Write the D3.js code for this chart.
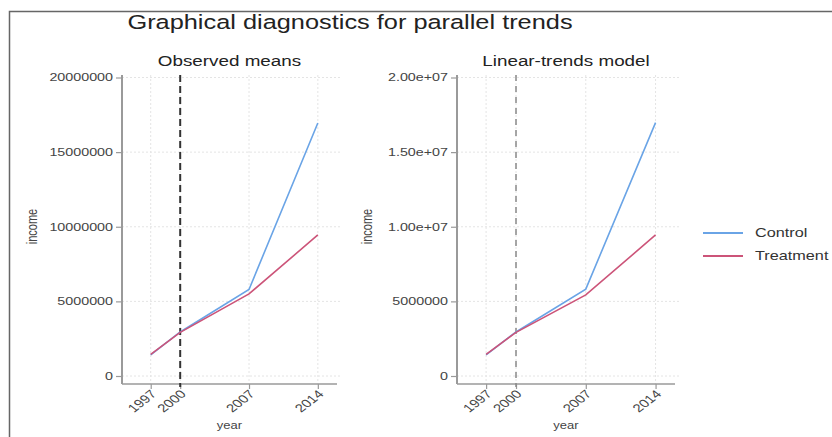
<!DOCTYPE html>
<html>
<head>
<meta charset="utf-8">
<script src="https://cdn.jsdelivr.net/npm/d3@7"></script>
<style>
  body { margin: 0; background: #fff; }
  svg { display: block; font-family: "Liberation Sans", Arial, sans-serif; }
</style>
</head>
<body>
<div id="chart"></div>
<script>
// values
var years = [1997, 2000, 2007, 2014];
var yTicks = [0, 5000000, 10000000, 15000000, 20000000];
var obsControl = [1420000, 2950000, 5800000, 16950000];
var obsTreatment = [1450000, 2920000, 5500000, 9450000];
var ltControl = [1420000, 2950000, 5820000, 16980000];
var ltTreatment = [1450000, 2920000, 5430000, 9450000];
var seriesNames = ["Control", "Treatment"];
var seriesColors = ["#6aa4e6", "#cc5479"];
var treatYear = 2000;

var W = 832, H = 437;
var sx = 1.3; // the source image is stretched sideways, so is its text

var svg = d3.select("#chart").append("svg")
    .attr("width", W)
    .attr("height", H);

// frame of the screenshot
svg.append("path")
    .attr("d", "M9.5,437 V11.5 H832")
    .attr("fill", "none")
    .attr("stroke", "#666")
    .attr("stroke-width", 1.5);

// stretched text helper
function label(g, x, y, txt, size, anchor, rot, fill) {
  return g.append("text")
      .attr("transform", "translate(" + x + "," + y + ") scale(" + sx + ",1)" + (rot ? " rotate(" + rot + ")" : ""))
      .attr("text-anchor", anchor || "middle")
      .attr("font-size", size)
      .attr("fill", fill || "#333")
      .text(txt);
}

label(svg, 350, 29, "Graphical diagnostics for parallel trends", 19.5, "middle", 0, "#222");

var plotTop = 75, plotBottom = 384;
var y = d3.scaleLinear().domain([0, 20000000]).range([376, 77.5]);

function sciFmt(v) {
  if (v >= 10000000) return v.toExponential(2).replace("e+7", "e+07");
  return d3.format("d")(v);
}

var panels = [
  { title: "Observed means", left: 122, right: 337, control: obsControl, treat: obsTreatment,
    fmt: d3.format("d"), vcol: "#333", vw: 2, vdash: "7,4" },
  { title: "Linear-trends model", left: 457, right: 675, control: ltControl, treat: ltTreatment,
    fmt: sciFmt, vcol: "#8a8a8a", vw: 1.5, vdash: "6,5" }
];

panels.forEach(function(p) {
  var g = svg.append("g");
  var x = d3.scaleLinear().domain([1994.08, 2015.95]).range([p.left, p.right]);
  var cx = (p.left + p.right) / 2;

  // grid
  g.selectAll("line.hgrid").data(yTicks).enter().append("line")
      .attr("class", "hgrid")
      .attr("x1", p.left).attr("x2", p.right + 5)
      .attr("y1", function(d) { return y(d); })
      .attr("y2", function(d) { return y(d); })
      .attr("stroke", "#e4e4e4")
      .attr("stroke-dasharray", "2,2");
  g.selectAll("line.vgrid").data(years).enter().append("line")
      .attr("class", "vgrid")
      .attr("x1", function(d) { return x(d); })
      .attr("x2", function(d) { return x(d); })
      .attr("y1", plotTop).attr("y2", plotBottom)
      .attr("stroke", "#e4e4e4")
      .attr("stroke-dasharray", "2,2");

  // axes
  var yAxis = g.append("g")
      .attr("transform", "translate(" + p.left + ",0)")
      .call(d3.axisLeft(y).tickValues(yTicks).tickSize(6).tickFormat(""));
  yAxis.select(".domain").attr("d", "M0," + plotTop + "V" + plotBottom)
      .attr("stroke", "#9a9a9a").attr("stroke-width", 2);
  yAxis.selectAll(".tick line").attr("stroke", "#9a9a9a").attr("stroke-width", 1.2);
  yTicks.forEach(function(t) {
    label(g, p.left - 9, y(t), p.fmt(t), 11, "end", 0, "#444").attr("dy", "0.35em");
  });

  var xAxis = g.append("g")
      .attr("transform", "translate(0," + plotBottom + ")")
      .call(d3.axisBottom(x).tickValues(years).tickSize(5).tickFormat(""));
  xAxis.select(".domain").attr("d", "M" + p.left + ",0H" + p.right)
      .attr("stroke", "#9a9a9a").attr("stroke-width", 1.5);
  xAxis.selectAll(".tick line").attr("stroke", "#9a9a9a").attr("stroke-width", 1.2);
  years.forEach(function(t) {
    label(g, x(t) + 3, plotBottom + 8, String(t), 11.5, "end", -45, "#444").attr("dy", "0.35em");
  });

  // treatment start line
  g.append("line")
      .attr("x1", x(treatYear)).attr("x2", x(treatYear))
      .attr("y1", plotTop).attr("y2", plotBottom + 3)
      .attr("stroke", p.vcol)
      .attr("stroke-width", p.vw)
      .attr("stroke-dasharray", p.vdash);

  // series
  var line = d3.line()
      .x(function(d, i) { return x(years[i]); })
      .y(function(d) { return y(d); });
  [p.control, p.treat].forEach(function(vals, k) {
    g.append("path")
        .attr("d", line(vals))
        .attr("fill", "none")
        .attr("stroke", seriesColors[k])
        .attr("stroke-width", 1.6);
  });

  // titles
  label(g, cx, 66, p.title, 14.5, "middle", 0, "#222");
  label(g, cx, 429, "year", 10, "middle", 0, "#444");
  label(g, p.left - 85, (plotTop + plotBottom) / 2 - 3, "income", 11, "middle", -90, "#444");
});

// legend
var leg = svg.append("g");
seriesNames.forEach(function(n, i) {
  var ly = 233 + i * 23;
  leg.append("line")
      .attr("x1", 703).attr("x2", 743)
      .attr("y1", ly).attr("y2", ly)
      .attr("stroke", seriesColors[i])
      .attr("stroke-width", 2);
  label(leg, 755, ly, n, 12.5, "start", 0, "#333").attr("dy", "0.35em");
});
</script>
</body>
</html>
